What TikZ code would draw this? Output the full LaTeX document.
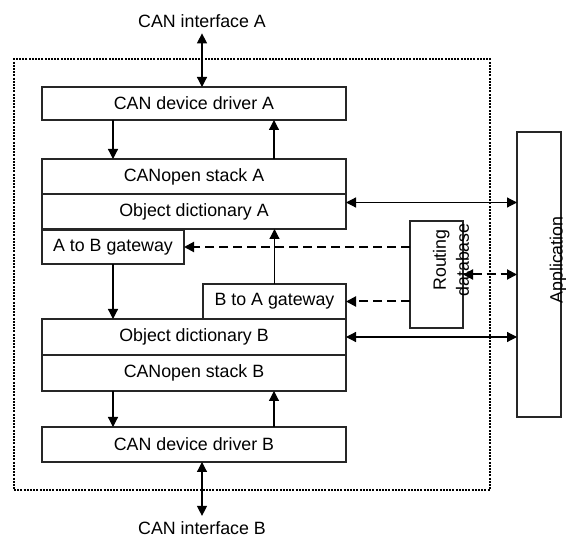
\documentclass[tikz,border=0pt]{standalone}
\usepackage{fontspec}
\setmainfont{Liberation Sans}
\usetikzlibrary{arrows.meta}
\begin{document}
\begin{tikzpicture}[x=1pt,y=-1pt,
  txt/.style={font=\fontsize{17.8pt}{21pt}\selectfont},
  blk/.style={draw=black!85, line width=1.2pt, inner sep=0pt, outer sep=0pt,
              anchor=north west, txt},
  frame/.style={draw=black, line width=2pt, dash pattern=on 2pt off 1.2pt,
                inner sep=0pt, outer sep=0pt, anchor=north west},
  arr/.style={line width=1.2pt, draw=black, -{Triangle[length=10pt,width=10pt]}},
  dbl/.style={line width=1.2pt, draw=black,
              {Triangle[length=10pt,width=10pt]}-{Triangle[length=10pt,width=10pt]}},
  dsh/.style={line width=2pt, draw=black, dash pattern=on 9pt off 5pt,
              -{Triangle[length=10pt,width=10pt]}},
  dshdbl/.style={line width=2pt, draw=black, dash pattern=on 9pt off 5pt,
              {Triangle[length=10pt,width=10pt]}-{Triangle[length=10pt,width=10pt]}},
]
\useasboundingbox (0,0) rectangle (566,540);

% system boundary
\node[frame, minimum width=476pt, minimum height=431pt] (sys) at (14,59) {};

% protocol stacks
\node[blk, minimum width=304pt, minimum height=33pt] (drvA)   at (42,87)  {CAN device driver A};
\node[blk, minimum width=304pt, minimum height=35pt] (stackA) at (42,159) {CANopen stack A};
\node[blk, minimum width=304pt, minimum height=35pt] (odA)    at (42,194) {Object dictionary A};
\node[blk, minimum width=142pt, minimum height=34pt] (a2b)    at (42,230) {A to B gateway};
\node[blk, minimum width=143pt, minimum height=35pt] (b2a)    at (203,284) {B to A gateway};
\node[blk, minimum width=304pt, minimum height=36pt] (odB)    at (42,319) {Object dictionary B};
\node[blk, minimum width=304pt, minimum height=36pt] (stackB) at (42,355) {CANopen stack B};
\node[blk, minimum width=304pt, minimum height=35pt] (drvB)   at (42,427) {CAN device driver B};

% routing database and application
\node[blk, minimum width=53pt, minimum height=107pt] (routing) at (410,221) {};
\node[txt, rotate=90, align=center, inner sep=0pt,
      font=\fontsize{17.8pt}{23pt}\selectfont] (routingtxt) at (451,260) {Routing\\database};
\node[blk, minimum width=44pt, minimum height=285pt] (app) at (517,132) {};
\node[txt, rotate=90, inner sep=0pt] (apptxt) at (558,260) {Application};

% bus interfaces
\node[txt, anchor=base, inner xsep=0pt, inner ysep=5pt] (ifA) at (202,28) {CAN interface A};
\node[txt, anchor=base, inner xsep=0pt, inner ysep=6pt] (ifB) at (202,535) {CAN interface B};

% connectors
\draw[dbl] (ifA.south) -- (ifA.south |- drvA.north);
\draw[arr] ([xshift=71pt]drvA.south west) -- ([xshift=71pt]stackA.north west);
\draw[arr] ([xshift=-72pt]stackA.north east) -- ([xshift=-72pt]drvA.south east);

\coordinate (odAout) at ([yshift=9pt]odA.east);
\draw[dbl] (odAout) -- (odAout -| app.west);
\draw[dsh] (routing.west |- a2b.east) -- (a2b.east);
\draw[arr] (b2a.north) -- (b2a.north |- odA.south);
\draw[arr] (a2b.south) -- (a2b.south |- odB.north);
\draw[dsh] (routing.west |- b2a.east) -- (b2a.east);
\draw[dshdbl] (routing.east) -- (routing.east -| app.west);
\draw[dbl] (odB.east) -- (odB.east -| app.west);

\draw[arr] ([xshift=71pt]stackB.south west) -- ([xshift=71pt]drvB.north west);
\draw[arr] ([xshift=-72pt]drvB.north east) -- ([xshift=-72pt]stackB.south east);
\draw[dbl] (ifB.north |- drvB.south) -- (ifB.north);
\end{tikzpicture}
\end{document}
